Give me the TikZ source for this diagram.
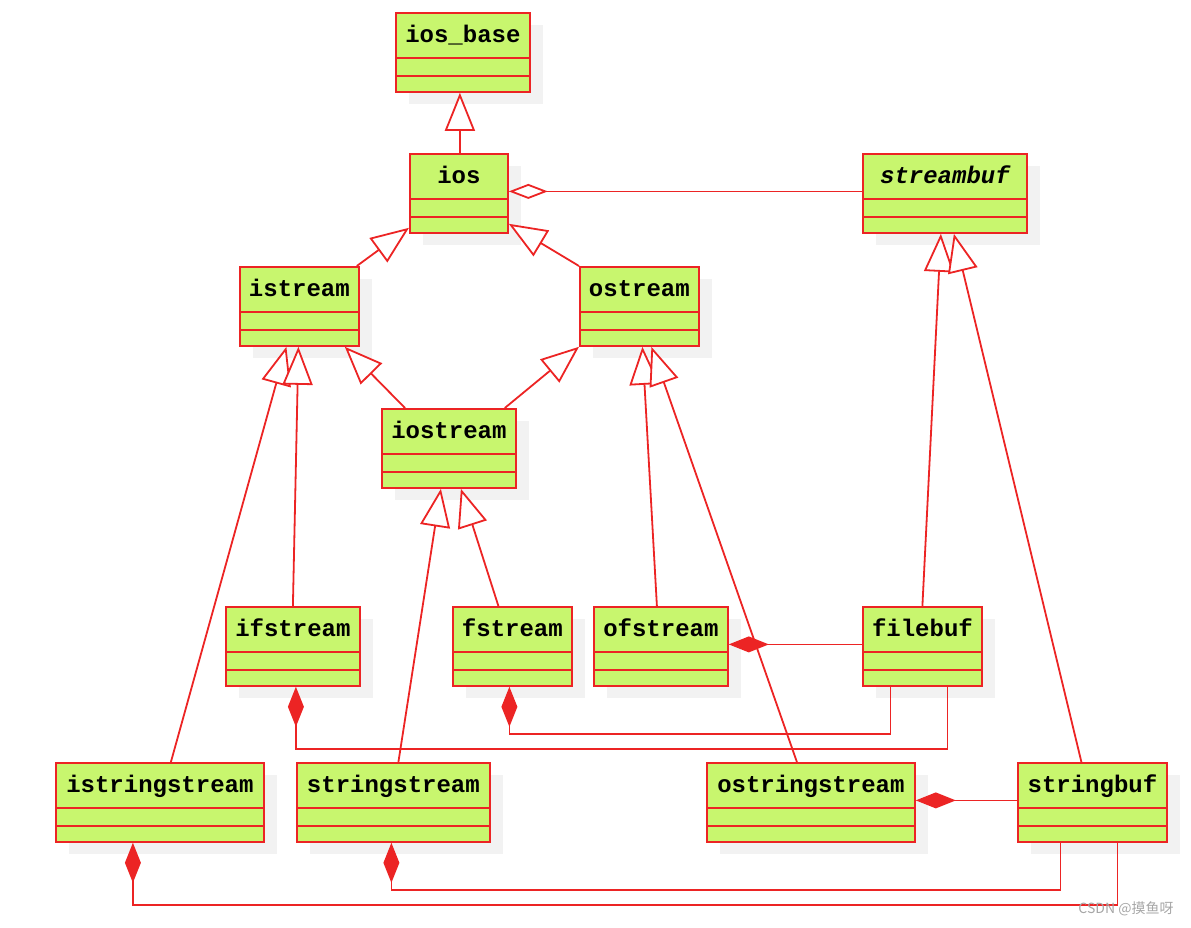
\documentclass[tikz,border=0pt]{standalone}
\usepackage{fontspec}
\newfontfamily\classfont{Liberation Mono}
\newfontfamily\cjk{Noto Sans CJK SC}
\usetikzlibrary{arrows.meta}
\usetikzlibrary{shadows}
\definecolor{classfill}{RGB}{200,246,110}
\definecolor{classline}{RGB}{236,36,36}
\definecolor{shadowgray}{RGB}{242,242,242}

\begin{document}
\begin{tikzpicture}[x=1pt, y=-1pt,
    umlclass/.style={rectangle, draw=classline, fill=classfill, line width=1.8pt,
      anchor=north west, inner xsep=0pt, inner ysep=0pt,
      text height=30pt, text depth=49pt, minimum height=79pt,
      font=\classfont\bfseries\fontsize{24}{28}\selectfont,
      path picture={
        \draw[classline, line width=1.8pt]
          ([yshift=-45pt]path picture bounding box.north west) -- ([yshift=-45pt]path picture bounding box.north east)
          ([yshift=-63pt]path picture bounding box.north west) -- ([yshift=-63pt]path picture bounding box.north east);
      },
      drop shadow={shadow xshift=13pt, shadow yshift=-12pt, fill=shadowgray, opacity=1}},
    extends/.style={draw=classline, line width=1.8pt, -{Triangle[length=38pt, width=30pt, fill=white]}},
    shared/.style={draw=classline, line width=1.8pt, -{Diamond[length=39pt, width=15pt, fill=white]}},
    owns/.style={draw=classline, line width=1.8pt, -{Diamond[length=40pt, width=16pt]}}]
    \useasboundingbox (0,0) rectangle (1191,927);

    % classes
    \node[umlclass, minimum width=134pt] (iosbase) at (395,12) {ios\_base};
    \node[umlclass, minimum width=98pt] (ios) at (409,153) {ios};
    \node[umlclass, minimum width=164pt] (streambuf) at (862,153) {\itshape streambuf};
    \node[umlclass, minimum width=119pt] (istream) at (239,266) {istream};
    \node[umlclass, minimum width=119pt] (ostream) at (579,266) {ostream};
    \node[umlclass, minimum width=134pt] (iostream) at (381,408) {iostream};
    \node[umlclass, minimum width=134pt] (ifstream) at (225,606) {ifstream};
    \node[umlclass, minimum width=119pt] (fstream) at (452,606) {fstream};
    \node[umlclass, minimum width=134pt] (ofstream) at (593,606) {ofstream};
    \node[umlclass, minimum width=119pt] (filebuf) at (862,606) {filebuf};
    \node[umlclass, minimum width=208pt] (istringstream) at (55,762) {istringstream};
    \node[umlclass, minimum width=193pt] (stringstream) at (296,762) {stringstream};
    \node[umlclass, minimum width=208pt] (ostringstream) at (706,762) {ostringstream};
    \node[umlclass, minimum width=149pt] (stringbuf) at (1017,762) {stringbuf};

    % inheritance
    \draw[extends] ([xshift=1pt]ios.north) -- ([xshift=1pt]ios.north |- iosbase.south);
    \draw[extends] ([xshift=-3pt]istream.north east) -- ([yshift=6pt]ios.south west);
    \draw[extends] (ostream.north west) -- ([yshift=10pt]ios.south east);
    \draw[extends] ([xshift=24pt]iostream.north west) -- ([xshift=-15pt]istream.south east);
    \draw[extends] ([xshift=-12pt]iostream.north east) -- (ostream.south west);
    \draw[extends] ([xshift=11pt]istringstream.north) -- ([xshift=-13pt]istream.south);
    \draw[extends] (ifstream.north) -- ([xshift=-1pt]istream.south);
    \draw[extends] ([xshift=5pt]stringstream.north) -- ([xshift=-8pt]iostream.south);
    \draw[extends] ([xshift=-14pt]fstream.north) -- ([xshift=12pt]iostream.south);
    \draw[extends] ([xshift=-4pt]ofstream.north) -- ([xshift=3pt]ostream.south);
    \draw[extends] ([xshift=-14pt]ostringstream.north) -- ([xshift=12pt]ostream.south);
    \draw[extends] (filebuf.north) -- ([xshift=-4pt]streambuf.south);
    \draw[extends] ([xshift=-11pt]stringbuf.north) -- ([xshift=9pt]streambuf.south);

    % aggregation and composition
    \draw[shared] ([yshift=2pt]streambuf.west) -- ([yshift=2pt]ios.east);
    \draw[owns] ([yshift=2pt]filebuf.west) -- ([yshift=2pt]ofstream.east);
    \draw[owns] ([xshift=25pt]filebuf.south) -- ++(0,62) -| ([xshift=3pt]ifstream.south);
    \draw[owns] ([xshift=-32pt]filebuf.south) -- ++(0,47) -| ([xshift=-3pt]fstream.south);
    \draw[owns] ([yshift=2pt]stringbuf.west) -- ([yshift=2pt]ostringstream.east);
    \draw[owns] ([xshift=-32pt]stringbuf.south) -- ++(0,47) -| ([xshift=-2pt]stringstream.south);
    \draw[owns] ([xshift=25pt]stringbuf.south) -- ++(0,62) -| ([xshift=-27pt]istringstream.south);

    \node[text=black!35, font=\cjk\fontsize{14}{16}\selectfont] (mark) at (1126,909) {CSDN @摸鱼呀};
\end{tikzpicture}
\end{document}
